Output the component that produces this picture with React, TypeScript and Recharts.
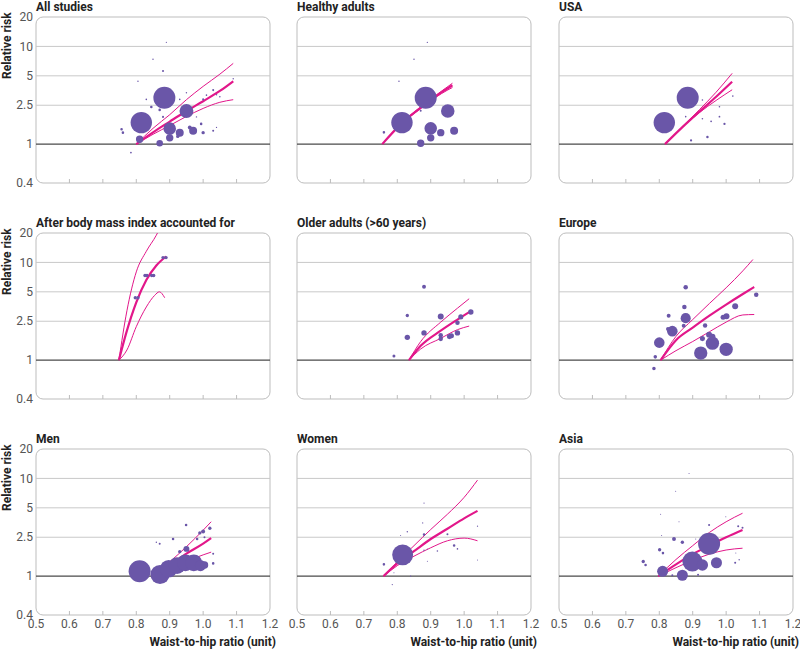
import React from 'react';
import {
  ComposedChart,
  Scatter,
  Line,
  XAxis,
  YAxis,
  ZAxis,
  ReferenceLine,
  ReferenceArea,
} from 'recharts';

// study points are [waist-to-hip ratio, relative risk, study weight]
// fitted curves are [waist-to-hip ratio, relative risk]

const xTicks = [0.5, 0.6, 0.7, 0.8, 0.9, 1.0, 1.1, 1.2];
const yTicks = [0.4, 1, 2.5, 5, 10, 20];
const gridValues = [2.5, 5, 10];

const titles = [
  'All studies', 'Healthy adults', 'USA',
  'After body mass index accounted for', 'Older adults (>60 years)', 'Europe',
  'Men', 'Women', 'Asia',
];

const allStudies = [
  [0.884, 2.98, 95], [0.815, 1.66, 90], [0.95, 2.18, 38], [0.9, 1.44, 31],
  [0.93, 1.31, 12.5], [0.9, 1.16, 10.7], [0.97, 1.37, 12.5], [0.81, 1.12, 10.7],
  [0.87, 1.02, 8.5], [0.96, 1.48, 3], [0.924, 1.2, 2.2], [1.0, 1.31, 2.2],
  [0.994, 1.61, 1.3], [1.03, 1.37, 0.8], [0.756, 1.42, 1.3], [0.76, 1.31, 1.3],
  [0.784, 0.82, 0.6], [0.805, 4.4, 0.4], [0.85, 7.4, 0.4], [0.88, 5.6, 0.8],
  [0.89, 11, 0.3], [0.83, 2.87, 0.5], [0.845, 2.4, 1.3], [0.87, 2.24, 1.3],
  [0.93, 2.87, 0.5], [0.95, 3.35, 0.4], [1.0, 2.87, 0.8], [1.01, 3.17, 0.5],
  [1.03, 3.57, 0.8], [1.04, 3.2, 0.4], [1.05, 3.05, 0.5], [1.09, 4.66, 0.4],
  [1.04, 1.48, 0.3], [0.98, 1.9, 0.4], [0.88, 1.9, 0.8],
];
const allFit = [[0.8, 1], [0.85, 1.32], [0.9, 1.7], [0.95, 2.18], [1.0, 2.75], [1.05, 3.5], [1.09, 4.4]];
const allUpper = [[0.8, 1], [0.85, 1.45], [0.9, 2.0], [0.95, 2.85], [1.0, 3.9], [1.05, 5.2], [1.09, 6.7]];
const allLower = [[0.8, 1], [0.85, 1.26], [0.9, 1.55], [0.95, 1.92], [1.0, 2.32], [1.05, 2.68], [1.09, 2.85]];

const healthyStudies = [
  [0.885, 2.98, 95], [0.814, 1.66, 90], [0.951, 2.18, 36], [0.9, 1.45, 31],
  [0.9, 1.16, 10.7], [0.93, 1.31, 10.7], [0.97, 1.37, 12.5], [0.87, 1.02, 10.7],
  [0.76, 1.32, 1.3], [0.87, 2.2, 0.8], [0.805, 4.4, 0.4], [0.85, 7.4, 0.4],
  [0.89, 11, 0.4],
];
const healthyFit = [[0.755, 1], [0.813, 1.63], [0.873, 2.4], [0.933, 3.4], [0.965, 4.0]];
const healthyUpper = [[0.755, 1], [0.813, 1.65], [0.873, 2.45], [0.933, 3.5], [0.965, 4.2]];
const healthyLower = [[0.755, 1], [0.813, 1.61], [0.873, 2.35], [0.933, 3.3], [0.965, 3.8]];

const usaStudies = [
  [0.885, 2.98, 95], [0.815, 1.66, 90], [0.929, 2.83, 0.5], [0.879, 1.91, 0.5],
  [0.929, 1.82, 0.5], [0.955, 1.71, 0.6], [0.98, 1.91, 0.6], [0.98, 2.41, 0.5],
  [0.995, 1.61, 1.0], [1.02, 3.1, 0.5], [0.944, 1.18, 1.2], [0.895, 1.09, 1.0],
];
const usaFit = [[0.817, 1], [0.87, 1.5], [0.92, 2.15], [0.97, 3.05], [1.018, 4.35]];
const usaUpper = [[0.817, 1], [0.87, 1.52], [0.92, 2.25], [0.97, 3.4], [1.018, 5.3]];
const usaLower = [[0.817, 1], [0.87, 1.5], [0.92, 2.1], [0.97, 2.8], [1.018, 3.6]];

const bmiStudies = [
  [0.797, 4.35, 2.2], [0.805, 4.35, 2.2], [0.826, 7.35, 2.2], [0.832, 7.35, 2.2],
  [0.846, 7.35, 2.2], [0.852, 7.35, 2.2], [0.88, 11.2, 2.2], [0.889, 11.2, 2.2],
];
const bmiFit = [[0.748, 1], [0.77, 1.9], [0.8, 3.9], [0.83, 6.6], [0.86, 9.3], [0.889, 11.5]];
const bmiUpper = [[0.748, 1], [0.772, 3.2], [0.8, 8], [0.83, 13], [0.86, 19], [0.875, 24]];
const bmiLower = [[0.748, 1], [0.772, 1.27], [0.8, 2.2], [0.83, 3.5], [0.855, 4.6], [0.869, 5.0], [0.885, 4.35]];

const olderStudies = [
  [0.88, 5.63, 3], [0.83, 2.86, 2.2], [0.93, 2.8, 7], [0.83, 1.71, 5.7],
  [0.88, 1.9, 5.7], [0.79, 1.1, 1.8], [0.93, 1.8, 4], [0.93, 1.65, 4],
  [0.956, 1.74, 5], [0.962, 1.78, 5], [0.98, 1.9, 5.7], [0.98, 2.41, 4],
  [0.99, 2.77, 5], [1.02, 3.11, 5.7],
];
const olderFit = [[0.835, 1], [0.87, 1.4], [0.93, 2.0], [0.98, 2.6], [1.015, 3.1]];
const olderUpper = [[0.835, 1], [0.87, 1.55], [0.93, 2.45], [0.98, 3.4], [1.015, 4.25]];
const olderLower = [[0.835, 1], [0.87, 1.3], [0.93, 1.67], [0.98, 2.05], [1.015, 2.23]];

const europeStudies = [
  [0.879, 5.58, 4], [0.875, 3.5, 4], [0.828, 2.84, 3], [0.879, 2.69, 20],
  [0.873, 2.25, 3], [0.839, 1.98, 22], [0.826, 2.08, 3], [0.8, 1.51, 22],
  [0.788, 1.08, 2.5], [0.784, 0.82, 2.5], [0.924, 1.18, 35], [0.959, 1.49, 35],
  [1.0, 1.29, 35], [0.929, 1.66, 5], [0.937, 2.26, 3.8], [0.949, 1.82, 7],
  [0.959, 1.74, 7], [0.991, 2.75, 5], [1.001, 2.81, 7], [1.027, 3.55, 7],
  [1.09, 4.67, 4],
];
const europeFit = [[0.804, 1], [0.85, 1.6], [0.9, 2.15], [0.95, 2.85], [1.0, 3.7], [1.05, 4.75], [1.084, 5.6]];
const europeUpper = [[0.804, 1], [0.85, 1.75], [0.9, 2.6], [0.95, 3.8], [1.0, 5.5], [1.05, 8.2], [1.08, 10.7]];
const europeLower = [[0.804, 1], [0.85, 1.25], [0.9, 1.55], [0.95, 1.95], [1.0, 2.45], [1.05, 2.9], [1.084, 2.93]];

const menStudies = [
  [0.81, 1.12, 95], [0.871, 1.04, 72], [0.897, 1.19, 60], [0.922, 1.28, 55],
  [0.947, 1.37, 55], [0.972, 1.37, 55], [0.992, 1.28, 24], [1.004, 1.3, 11],
  [0.95, 1.9, 7], [0.93, 1.78, 2.2], [0.91, 2.4, 1.3], [0.87, 2.14, 0.8],
  [0.86, 2.22, 0.4], [0.949, 3.34, 1.3], [0.982, 2.4, 1.3], [0.99, 2.77, 2.2],
  [1.0, 2.86, 3], [1.004, 2.5, 0.8], [1.02, 3.09, 2.2], [1.03, 1.69, 0.8],
  [1.03, 1.35, 1.3],
];
const menFit = [[0.845, 1], [0.9, 1.3], [0.95, 1.7], [1.0, 2.15], [1.024, 2.45]];
const menUpper = [[0.845, 1], [0.9, 1.4], [0.95, 2.0], [1.0, 2.95], [1.024, 3.6]];
const menLower = [[0.845, 1], [0.9, 1.22], [0.95, 1.42], [1.0, 1.65], [1.024, 1.76]];

const womenStudies = [
  [0.816, 1.65, 86], [0.76, 1.32, 1.3], [0.88, 2.66, 1.3], [0.95, 2.68, 0.8],
  [0.97, 2.06, 1.3], [0.98, 1.9, 0.5], [0.92, 1.81, 0.5], [0.88, 1.84, 0.4],
  [0.89, 1.9, 0.2], [0.88, 5.6, 0.3], [0.876, 3.5, 0.3], [0.83, 2.85, 0.4],
  [0.81, 2.6, 0.2], [1.04, 3.24, 0.3], [1.04, 1.46, 0.2], [0.89, 1.42, 0.2],
  [0.84, 1.0, 0.4], [0.785, 0.82, 0.3], [0.79, 1.08, 0.2],
];
const womenFit = [[0.759, 1], [0.8, 1.35], [0.85, 1.8], [0.9, 2.4], [0.95, 3.05], [1.0, 3.9], [1.04, 4.65]];
const womenUpper = [[0.759, 1], [0.8, 1.4], [0.85, 2.05], [0.9, 3.0], [0.95, 4.3], [1.0, 6.4], [1.04, 9.6]];
const womenLower = [[0.759, 1], [0.8, 1.28], [0.85, 1.6], [0.9, 1.95], [0.95, 2.3], [1.0, 2.45], [1.04, 2.3]];

const asiaStudies = [
  [0.949, 2.14, 95], [0.899, 1.41, 78], [0.929, 1.3, 25], [0.971, 1.37, 24],
  [0.869, 1.02, 24], [0.81, 1.12, 24], [0.844, 2.4, 3], [0.869, 2.22, 2.2],
  [0.801, 1.86, 2.2], [0.811, 1.72, 1.3], [0.752, 1.41, 2.2], [0.759, 1.3, 1.3],
  [0.916, 1.03, 0.8], [0.839, 1.02, 0.8], [0.949, 3.34, 0.8], [1.036, 3.24, 0.8],
  [1.049, 3.12, 0.8], [1.027, 1.37, 0.8], [1.039, 1.47, 0.4], [1.029, 1.72, 0.2],
  [0.889, 11.2, 0.2], [0.849, 7.4, 0.2], [0.804, 4.3, 0.2], [0.859, 3.6, 0.2],
  [0.999, 4.06, 0.2], [0.807, 2.6, 0.2], [0.909, 2.4, 0.2],
];
const asiaFit = [[0.797, 1], [0.85, 1.32], [0.9, 1.68], [0.95, 2.05], [1.0, 2.5], [1.049, 2.97]];
const asiaUpper = [[0.797, 1], [0.85, 1.48], [0.9, 2.05], [0.95, 2.8], [1.0, 3.6], [1.049, 4.4]];
const asiaLower = [[0.797, 1], [0.85, 1.22], [0.9, 1.45], [0.95, 1.68], [1.0, 1.85], [1.049, 1.93]];

const PURPLE = '#6a56a8';
const MAGENTA = '#e2178a';
const FONT = 'Roboto, "Noto Sans", sans-serif';

const PLOT_LEFT = [36, 297, 559];
const PLOT_TOP = [17, 233, 449];
const PLOT_W = 234;
const PLOT_H = 166;
const AXIS_W = 36;
const PAD = 9;
const RIGHT = 12;
const X_H = 20;

const toPoints = (rows: number[][]) => rows.map(([x, y, z]) => ({ x, y, z }));

const panels = [
  [allStudies, allFit, allUpper, allLower],
  [healthyStudies, healthyFit, healthyUpper, healthyLower],
  [usaStudies, usaFit, usaUpper, usaLower],
  [bmiStudies, bmiFit, bmiUpper, bmiLower],
  [olderStudies, olderFit, olderUpper, olderLower],
  [europeStudies, europeFit, europeUpper, europeLower],
  [menStudies, menFit, menUpper, menLower],
  [womenStudies, womenFit, womenUpper, womenLower],
  [asiaStudies, asiaFit, asiaUpper, asiaLower],
].map(([studies, fit, upper, lower], i) => ({
  title: titles[i],
  studies: toPoints(studies),
  fit: toPoints(fit),
  upper: toPoints(upper),
  lower: toPoints(lower),
}));

const Frame = (p: any) => (
  <rect x={p.x} y={p.y} width={p.width} height={p.height} rx={7} ry={7} fill="none" stroke="#bdbdbd" strokeWidth={1} />
);

function XTick({ x, y, payload, showLabel }: any) {
  const v = payload.value;
  const inner = v > 0.55 && v < 1.15;
  return (
    <g>
      {inner && <line x1={x} x2={x} y1={y - 4} y2={y} stroke="#bdbdbd" />}
      {showLabel && (
        <text x={x} y={y + 9} textAnchor="middle" dominantBaseline="central" fontSize={12} fill="#555" fontFamily={FONT}>
          {v.toFixed(1)}
        </text>
      )}
    </g>
  );
}

function Panel({ panel, row, col }: any) {
  const plotLeft = PLOT_LEFT[col];
  const plotTop = PLOT_TOP[row];
  const bold = { position: 'absolute' as const, fontFamily: FONT, fontWeight: 700, fontSize: 12, lineHeight: '14px', color: '#222', whiteSpace: 'nowrap' as const };

  return (
    <>
      <div style={{ ...bold, left: plotLeft, top: plotTop - 17 }}>{panel.title}</div>
      {col === 0 && (
        <div
          style={{
            ...bold,
            left: 0,
            top: plotTop - 4,
            width: 14,
            height: 66,
            writingMode: 'vertical-rl',
            transform: 'rotate(180deg)',
            textAlign: 'center',
          }}
        >
          Relative risk
        </div>
      )}
      {row === 2 && (
        <div style={{ ...bold, right: 800 - (plotLeft + PLOT_W + 6), top: 635 }}>Waist-to-hip ratio (unit)</div>
      )}
      <div style={{ position: 'absolute', left: plotLeft - AXIS_W, top: plotTop - PAD }}>
        <ComposedChart
          width={AXIS_W + PLOT_W + RIGHT}
          height={PAD + PLOT_H + X_H}
          margin={{ top: PAD, right: RIGHT, bottom: 0, left: 0 }}
        >
          <XAxis
            dataKey="x"
            type="number"
            domain={[0.5, 1.2]}
            ticks={xTicks}
            interval={0}
            axisLine={false}
            tickLine={false}
            tickSize={0}
            tickMargin={0}
            height={X_H}
            tick={<XTick showLabel={row === 2} />}
          />
          <YAxis
            dataKey="y"
            type="number"
            scale="log"
            domain={[0.4, 20]}
            ticks={yTicks}
            interval={0}
            allowDataOverflow
            axisLine={false}
            tickLine={false}
            tickSize={0}
            tickMargin={3}
            width={AXIS_W}
            tickFormatter={(v: number) => String(v)}
            tick={col === 0 ? { fontSize: 12, fill: '#555', fontFamily: FONT } : false}
          />
          <ZAxis dataKey="z" type="number" scale="linear" domain={[0, 100]} range={[0, 400]} />
          <ReferenceArea x1={0.5} x2={1.2} y1={0.4} y2={20} shape={Frame} />
          {gridValues.map((g) => (
            <ReferenceLine key={g} y={g} stroke="#c9c9c9" strokeWidth={1} />
          ))}
          <ReferenceLine y={1} stroke="#4a4a4a" strokeWidth={1.2} />
          <Scatter data={panel.studies} fill={PURPLE} isAnimationActive={false} />
          <Line data={panel.upper} dataKey="y" type="monotone" stroke={MAGENTA} strokeWidth={1} dot={false} isAnimationActive={false} />
          <Line data={panel.lower} dataKey="y" type="monotone" stroke={MAGENTA} strokeWidth={1} dot={false} isAnimationActive={false} />
          <Line data={panel.fit} dataKey="y" type="monotone" stroke={MAGENTA} strokeWidth={2.2} dot={false} isAnimationActive={false} />
        </ComposedChart>
      </div>
    </>
  );
}

export default function App() {
  return (
    <div style={{ position: 'absolute', left: 0, top: 0, width: 800, height: 649, background: '#fff' }}>
      {panels.map((p, i) => (
        <Panel key={p.title} panel={p} row={Math.floor(i / 3)} col={i % 3} />
      ))}
    </div>
  );
}
